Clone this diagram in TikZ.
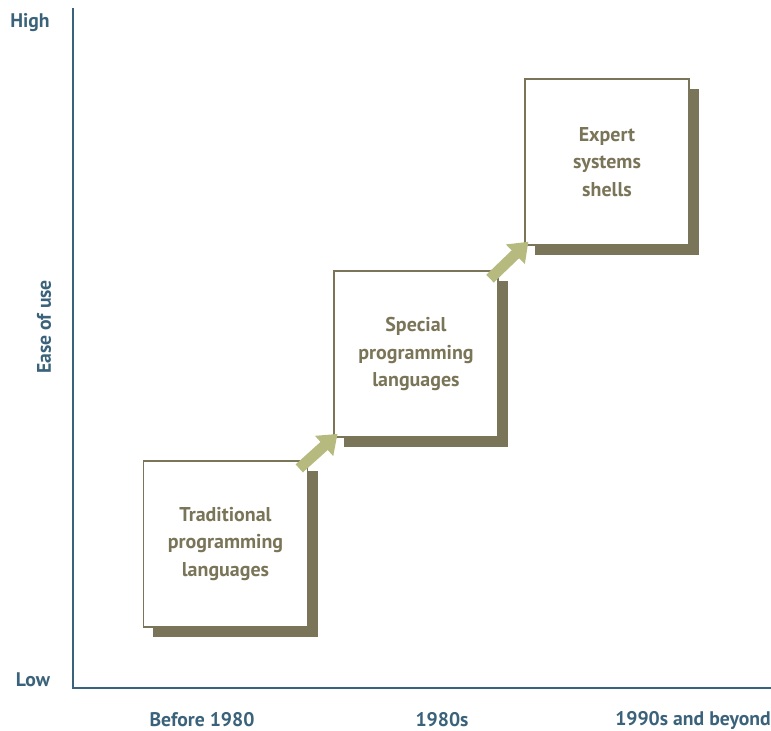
\documentclass[tikz,border=0pt]{standalone}
\usepackage{fontspec}
\setmainfont{PT Sans}
\usetikzlibrary{positioning, arrows.meta, shadows}
\definecolor{AxisBlue}{RGB}{58,98,122}
\definecolor{OliveDark}{RGB}{122,117,88}
\definecolor{OliveLight}{RGB}{182,186,126}

\begin{document}
\begin{tikzpicture}[
          x=0.025cm, y=-0.025cm,
          era/.style={rectangle, draw=OliveDark, line width=0.9pt, fill=white,
                      minimum width=4.1cm, minimum height=4.15cm, align=center,
                      text=OliveDark, font=\fontsize{14.2}{19.4}\selectfont\bfseries,
                      drop shadow={shadow xshift=0.25cm, shadow yshift=-0.25cm,
                                   fill=OliveDark, opacity=1}},
          axlabel/.style={text=AxisBlue, inner sep=1pt,
                          font=\fontsize{14}{16}\selectfont\bfseries},
          stepup/.style={line width=0.27cm, OliveLight,
                         -{Triangle[length=0.45cm, width=0.65cm]}}
        ]
        \useasboundingbox (0,0) rectangle (771,731);

        % axes
        \coordinate (top) at (73,8);
        \coordinate (origin) at (73,688);
        \coordinate (right) at (771,688);
        \draw[AxisBlue, line width=2pt] (top) -- (origin) -- (right);
        \node[axlabel] (high) at (30,23) {High};
        \node[axlabel] (low) at (33,680) {Low};
        \node[axlabel, rotate=90] (ease) at (44,327) {Ease of use};
        \node[axlabel] (t1) at (202,720) {Before 1980};
        \node[axlabel] (t2) at (442,720) {1980s};
        \node[axlabel] (t3) at (693,720) {1990s and beyond};

        % stages
        \node[era] (trad) at (225.5,544) {Traditional\\programming\\languages};
        \node[era] (special) at (416,354) {Special\\programming\\languages};
        \node[era] (shells) at (607,162) {Expert\\systems\\shells};

        \draw[stepup, shorten <=-0.3cm, shorten >=-0.14cm] (trad.north east) -- (special.south west);
        \draw[stepup, shorten <=-0.3cm, shorten >=-0.14cm] (special.north east) -- (shells.south west);
      \end{tikzpicture}
\end{document}
